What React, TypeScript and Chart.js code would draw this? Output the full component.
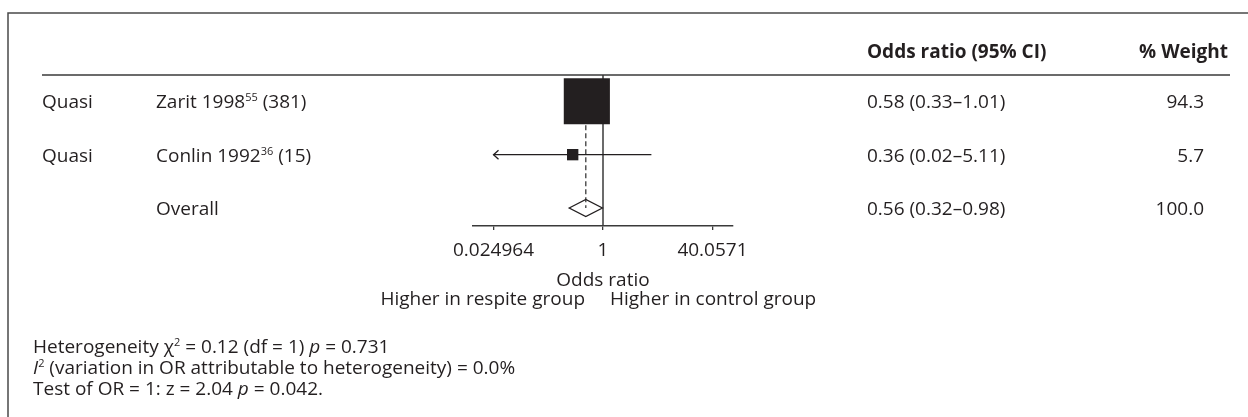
import React, { useEffect, useRef } from 'react';
import { Chart, registerables } from 'chart.js';

Chart.register(...registerables);

// ---- data ----
const designs = ['Quasi', 'Quasi'];
const studyNames = ['Zarit 1998', 'Conlin 1992'];
const studyRefs = ['55', '36'];
const sampleSizes = [381, 15];
const oddsRatios = [0.58, 0.36];
const ciLower = [0.33, 0.02];
const ciUpper = [1.01, 5.11];
const weights = [94.3, 5.7];

const overallLabel = 'Overall';
const overallOR = 0.56;
const overallLower = 0.32;
const overallUpper = 0.98;
const overallWeight = 100.0;

const axisTicks = [0.024964, 1, 40.0571];
const axisTickLabels = ['0.024964', '1', '40.0571'];
const axisTitle = 'Odds ratio';
const favoursLeft = 'Higher in respite group';
const favoursRight = 'Higher in control group';

const headerEstimate = 'Odds ratio (95% CI)';
const headerWeight = '% Weight';

type Run = { t: string; italic?: boolean; sup?: boolean };
const footerLines: Run[][] = [
  [{ t: 'Heterogeneity χ' }, { t: '2', sup: true }, { t: ' = 0.12 (df = 1) ' }, { t: 'p', italic: true }, { t: ' = 0.731' }],
  [{ t: 'I', italic: true }, { t: '2', sup: true }, { t: ' (variation in OR attributable to heterogeneity) = 0.0%' }],
  [{ t: 'Test of OR = 1: z = 2.04 ' }, { t: 'p', italic: true }, { t: ' = 0.042.' }],
];

// ---- styling ----
const INK = '#231f20';
const RULE = '#3a3a3a';
const FONT = '"Open Sans", "Noto Sans", sans-serif';
const FS = 19;

const fmt2 = (v: number) => v.toFixed(2);
const estimateText = (o: number, l: number, h: number) => `${fmt2(o)} (${fmt2(l)}–${fmt2(h)})`;

function drawRuns(ctx: CanvasRenderingContext2D, runs: Run[], x: number, y: number, size: number) {
  let cx = x;
  for (const r of runs) {
    const fs = r.sup ? Math.round(size * 0.6) : size;
    ctx.font = `${r.italic ? 'italic ' : ''}${fs}px ${FONT}`;
    ctx.fillText(r.t, cx, r.sup ? y - size * 0.36 : y);
    cx += ctx.measureText(r.t).width;
  }
}

const forestPlugin = {
  id: 'forest',
  beforeDatasetsDraw(chart: any) {
    const { ctx, chartArea } = chart;
    const xs = chart.scales.x;
    const ys = chart.scales.y;
    const x1 = xs.getPixelForValue(1);
    ctx.save();
    ctx.strokeStyle = RULE;
    ctx.lineWidth = 1.5;
    ctx.beginPath();
    ctx.moveTo(x1, chartArea.top);
    ctx.lineTo(x1, chartArea.bottom);
    ctx.stroke();

    // pooled estimate reference line
    const xo = xs.getPixelForValue(overallOR);
    ctx.setLineDash([5, 3]);
    ctx.lineWidth = 1.3;
    ctx.beginPath();
    ctx.moveTo(xo, ys.getPixelForValue(1));
    ctx.lineTo(xo, ys.getPixelForValue(studyNames.length + 1));
    ctx.stroke();
    ctx.setLineDash([]);

    // confidence intervals, clipped to the labelled range with arrows
    const lim = axisTicks[0];
    const limHi = axisTicks[axisTicks.length - 1];
    ctx.strokeStyle = INK;
    ctx.lineWidth = 1.3;
    for (let i = 0; i < oddsRatios.length; i++) {
      const py = ys.getPixelForValue(i + 1);
      const lo = xs.getPixelForValue(Math.max(ciLower[i], lim));
      const hi = xs.getPixelForValue(Math.min(ciUpper[i], limHi));
      ctx.beginPath();
      ctx.moveTo(lo, py);
      ctx.lineTo(hi, py);
      ctx.stroke();
      if (ciLower[i] < lim) {
        ctx.beginPath();
        ctx.moveTo(lo + 5, py - 4.5);
        ctx.lineTo(lo, py);
        ctx.lineTo(lo + 5, py + 4.5);
        ctx.stroke();
      }
      if (ciUpper[i] > limHi) {
        ctx.beginPath();
        ctx.moveTo(hi - 5, py - 4.5);
        ctx.lineTo(hi, py);
        ctx.lineTo(hi - 5, py + 4.5);
        ctx.stroke();
      }
    }
    ctx.restore();
  },
  afterDatasetsDraw(chart: any) {
    const { ctx } = chart;
    const xs = chart.scales.x;
    const ys = chart.scales.y;
    const py = ys.getPixelForValue(studyNames.length + 1);
    const l = xs.getPixelForValue(overallLower);
    const c = xs.getPixelForValue(overallOR);
    const r = xs.getPixelForValue(overallUpper);
    ctx.save();
    ctx.strokeStyle = INK;
    ctx.lineWidth = 1.3;
    ctx.beginPath();
    ctx.moveTo(l, py);
    ctx.lineTo(c, py - 8.5);
    ctx.lineTo(r, py);
    ctx.lineTo(c, py + 8.5);
    ctx.closePath();
    ctx.stroke();
    ctx.restore();
  },
  afterDraw(chart: any) {
    const { ctx, width, height } = chart;
    const xs = chart.scales.x;
    const ys = chart.scales.y;
    ctx.save();

    // frame
    ctx.strokeStyle = '#4a4a4a';
    ctx.lineWidth = 1.5;
    ctx.beginPath();
    ctx.moveTo(8, height);
    ctx.lineTo(8, 13);
    ctx.lineTo(width, 13);
    ctx.stroke();

    // header rule
    ctx.strokeStyle = RULE;
    ctx.lineWidth = 1.5;
    ctx.beginPath();
    ctx.moveTo(42, 75);
    ctx.lineTo(1230, 75);
    ctx.stroke();

    ctx.fillStyle = INK;
    ctx.textBaseline = 'alphabetic';

    // column headers
    ctx.font = `bold ${FS}px ${FONT}`;
    ctx.textAlign = 'left';
    ctx.fillText(headerEstimate, 867, 57.5);
    ctx.textAlign = 'right';
    ctx.fillText(headerWeight, 1228, 57.5);

    // study rows
    for (let i = 0; i < studyNames.length; i++) {
      const by = ys.getPixelForValue(i + 1) + 7;
      ctx.textAlign = 'left';
      ctx.font = `${FS}px ${FONT}`;
      ctx.fillText(designs[i], 42, by);
      drawRuns(ctx, [{ t: studyNames[i] }, { t: studyRefs[i], sup: true }, { t: ` (${sampleSizes[i]})` }], 156, by, FS);
      ctx.font = `${FS}px ${FONT}`;
      ctx.fillText(estimateText(oddsRatios[i], ciLower[i], ciUpper[i]), 867, by);
      ctx.textAlign = 'right';
      ctx.fillText(weights[i].toFixed(1), 1204, by);
    }

    // pooled row
    const oy = ys.getPixelForValue(studyNames.length + 1) + 7;
    ctx.font = `${FS}px ${FONT}`;
    ctx.textAlign = 'left';
    ctx.fillText(overallLabel, 156, oy);
    ctx.fillText(estimateText(overallOR, overallLower, overallUpper), 867, oy);
    ctx.textAlign = 'right';
    ctx.fillText(overallWeight.toFixed(1), 1204, oy);

    // axis title and direction labels
    const x1 = xs.getPixelForValue(1);
    ctx.textAlign = 'center';
    ctx.fillText(axisTitle, x1, 286);
    ctx.textAlign = 'right';
    ctx.fillText(favoursLeft, x1 - 18, 305);
    ctx.textAlign = 'left';
    ctx.fillText(favoursRight, x1 + 7, 305);

    // heterogeneity statistics
    ctx.textAlign = 'left';
    footerLines.forEach((runs, k) => drawRuns(ctx, runs, 33, 353 + k * 21, FS));

    ctx.restore();
  },
};

export default function App() {
  const canvasRef = useRef<HTMLCanvasElement | null>(null);

  useEffect(() => {
    const canvas = canvasRef.current;
    if (!canvas) return;
    const radii = weights.map((w) => (4.75 * Math.sqrt(w)) / Math.SQRT2);
    const chart = new Chart(canvas, {
      type: 'scatter',
      data: {
        datasets: [
          {
            data: oddsRatios.map((v, i) => ({ x: v, y: i + 1 })),
            pointStyle: 'rect',
            pointRadius: radii,
            pointHoverRadius: radii,
            backgroundColor: INK,
            borderColor: INK,
            borderWidth: 0,
            clip: false,
          } as any,
        ],
      },
      options: {
        animation: false,
        responsive: false,
        devicePixelRatio: 1,
        events: [],
        layout: { padding: { left: 473, right: 515, top: 75, bottom: 161 } },
        plugins: { legend: { display: false }, tooltip: { enabled: false } },
        scales: {
          x: {
            type: 'logarithmic',
            position: 'bottom',
            min: 0.0125,
            max: 80,
            afterBuildTicks: (s: any) => {
              s.ticks = axisTicks.map((v) => ({ value: v }));
            },
            afterFit: (s: any) => {
              s.height = 30;
            },
            ticks: {
              autoSkip: false,
              maxRotation: 0,
              padding: 9,
              color: INK,
              font: { family: FONT, size: FS },
              callback: (_v: any, i: number) => axisTickLabels[i],
            },
            grid: { drawOnChartArea: false, drawTicks: true, tickLength: 4, color: RULE, lineWidth: 1.3 },
            border: { display: true, color: RULE, width: 1.5 },
          },
          y: { type: 'linear', display: false, reverse: true, min: 0.507, max: 3.337 },
        },
      } as any,
      plugins: [forestPlugin],
    });
    return () => chart.destroy();
  }, []);

  return (
    <div style={{ position: 'fixed', left: 0, top: 0, width: 1248, height: 417, background: '#fff' }}>
      <canvas ref={canvasRef} width={1248} height={417} style={{ display: 'block', width: 1248, height: 417 }} />
    </div>
  );
}
